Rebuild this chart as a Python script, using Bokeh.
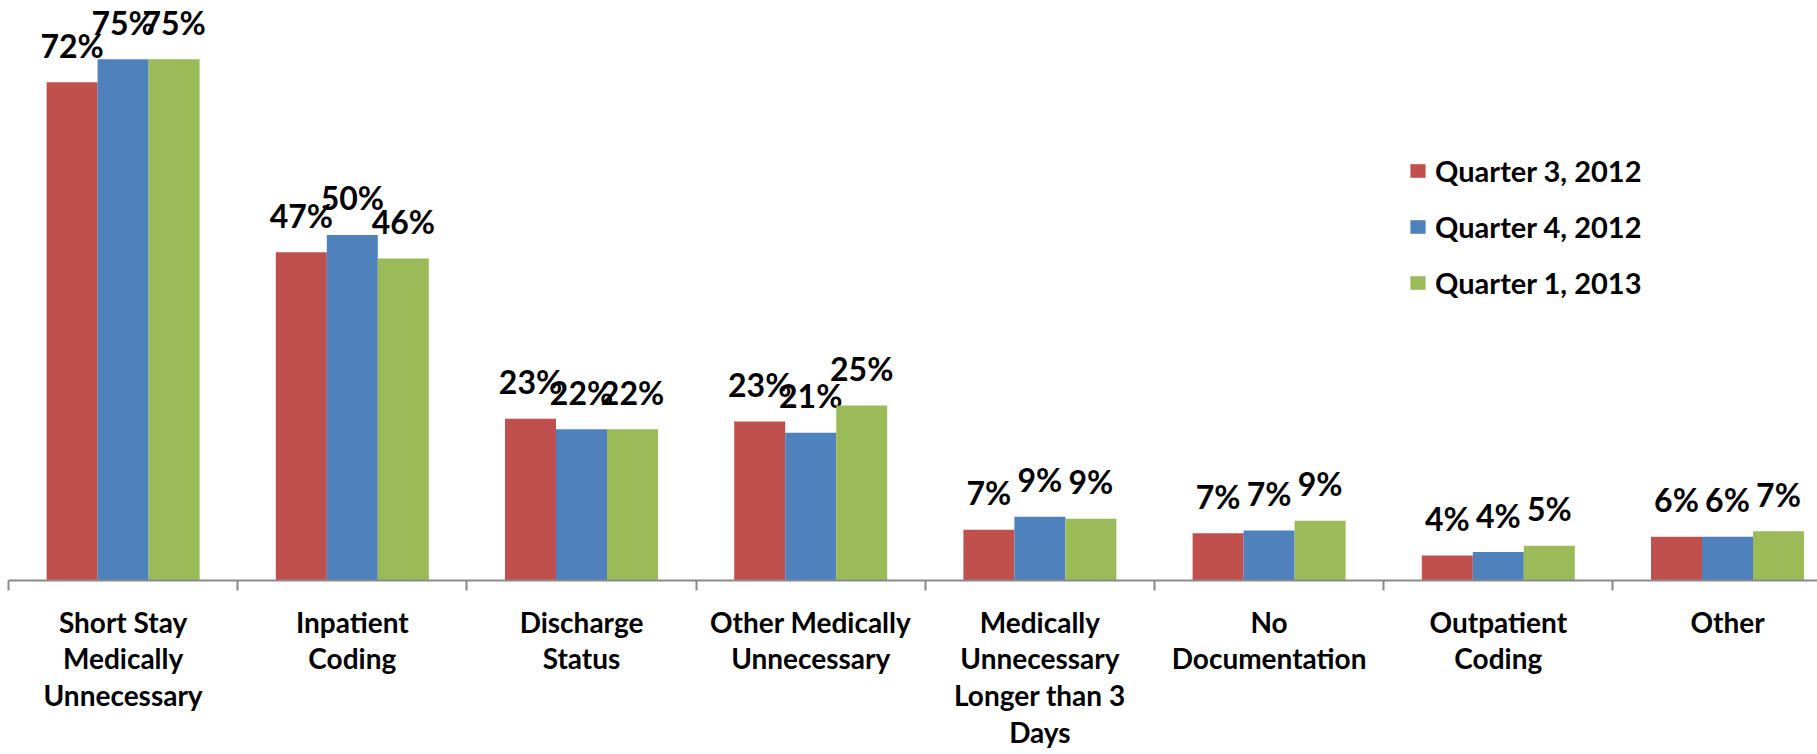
from bokeh.plotting import figure
from bokeh.models import (ColumnDataSource, Range1d, FixedTicker, Legend, LegendItem)
from bokeh.core.properties import value
from bokeh.embed import file_html
from bokeh.resources import INLINE

# ---- data ----
categories = ["Short Stay\nMedically\nUnnecessary", "Inpatient\nCoding", "Discharge\nStatus",
              "Other Medically\nUnnecessary", "Medically\nUnnecessary\nLonger than 3\nDays",
              "No\nDocumentation", "Outpatient\nCoding", "Other"]
series_names = ["Quarter 3, 2012", "Quarter 4, 2012", "Quarter 1, 2013"]
q3_2012 = [71.8, 47.3, 23.3, 22.9, 7.3, 6.8, 3.6, 6.3]
q4_2012 = [75.1, 49.8, 21.8, 21.3, 9.2, 7.2, 4.1, 6.3]
q1_2013 = [75.1, 46.4, 21.8, 25.2, 8.9, 8.6, 5.0, 7.1]
colors = ["#C0504D", "#4F81BD", "#9BBB59"]

FONT = "Lato"
CAT_PX = 229.2
FRAME_W = 1809
FRAME_H = 572
PX_PER_PCT = 6.94
BAR_W = 51.0 / CAT_PX

n = len(categories)
xs = list(range(n))

p = figure(frame_width=FRAME_W, frame_height=FRAME_H, output_backend="svg",
           toolbar_location=None, y_axis_location=None,
           x_range=Range1d(-0.5, -0.5 + FRAME_W / CAT_PX),
           y_range=Range1d(0, FRAME_H / PX_PER_PCT),
           min_border_left=8, min_border_right=0, min_border_top=8, min_border_bottom=0)
p.outline_line_color = None
p.xgrid.visible = False
p.ygrid.visible = False
p.background_fill_color = "white"
p.border_fill_color = "white"

items = []
for i, (vals, name, col) in enumerate(zip([q3_2012, q4_2012, q1_2013], series_names, colors)):
    off = (i - 1) * BAR_W
    src = ColumnDataSource(dict(x=[x + off for x in xs], top=vals,
                                lab=[f"{round(v):d}%" for v in vals]))
    r = p.vbar(x="x", top="top", width=BAR_W, bottom=0, source=src,
               fill_color=col, line_color=None)
    items.append(LegendItem(label=name, renderers=[r]))
    p.text(x="x", y="top", text="lab", source=src, y_offset=-37,
           text_align="center", text_baseline="alphabetic",
           text_font=value(FONT), text_font_style="bold",
           text_font_size="32px", text_color="black")

ax = p.xaxis[0]
ax.ticker = FixedTicker(ticks=xs, minor_ticks=[x - 0.5 for x in xs] + [n - 0.5])
ax.major_label_overrides = {x: c for x, c in zip(xs, categories)}
ax.axis_line_color = "#8A8A8A"
ax.axis_line_width = 2
ax.major_tick_line_color = None
ax.major_tick_out = 0
ax.major_tick_in = 0
ax.minor_tick_line_color = "#8A8A8A"
ax.minor_tick_line_width = 2
ax.minor_tick_out = 10
ax.minor_tick_in = 0
ax.major_label_standoff = 14
ax.major_label_text_font = FONT
ax.major_label_text_font_style = "bold"
ax.major_label_text_font_size = "28px"
ax.major_label_text_color = "black"
ax.major_label_text_line_height = 1.08

legend = Legend(items=items, location=(1400, 280), orientation="vertical",
                glyph_width=19, glyph_height=17, label_standoff=8,
                label_text_font=FONT, label_text_font_style="bold",
                label_text_font_size="29px", label_text_color="black",
                label_height=30, spacing=21, padding=0, margin=0,
                border_line_color=None, background_fill_alpha=0)
p.add_layout(legend, "center")

open("out.html", "w").write(file_html(p, INLINE))
